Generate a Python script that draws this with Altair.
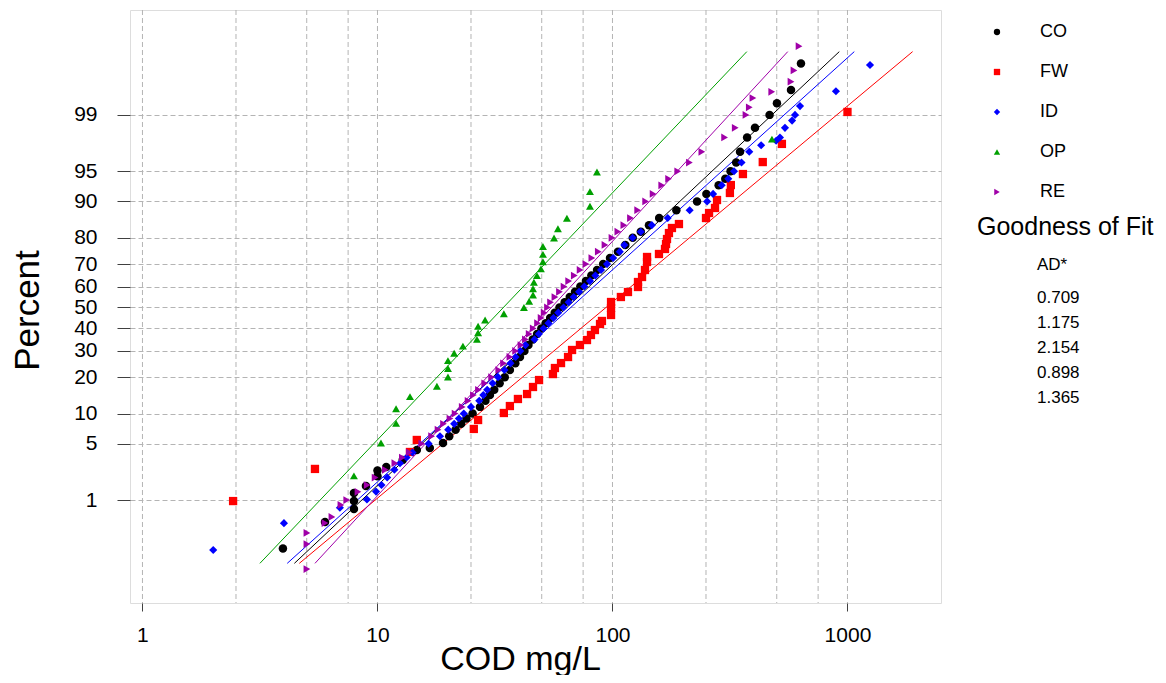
import altair as alt
import pandas as pd
from statistics import NormalDist

# ---------------- data ----------------
series_names = ["CO", "FW", "ID", "OP", "RE"]
series_colors = ["#000000", "#ff0000", "#0000ff", "#00a000", "#a000a8"]
series_shapes = ["circle", "square", "diamond", "triangle-up", "triangle-right"]
series_sizes = [72, 60, 105, 42, 72]
ad_values = ["0.709", "1.175", "2.154", "0.898", "1.365"]

co_cod = [3.96, 5.98, 7.94, 7.94, 7.94, 8.93, 10.0, 10.0, 10.9, 12.8, 14.7, 16.7, 19.0,
          20.2, 21.5, 22.7, 23.9, 25.4, 27.3, 28.8, 30.1, 31.4, 33.1, 34.8, 36.6, 38.6,
          40.4, 42.2, 43.9, 45.8, 47.8, 49.8, 52.0, 54.3, 56.8, 59.5, 62.6, 65.8, 69.3,
          73.0, 77.1, 81.3, 86.0, 91.3, 97.6, 105.5, 113.4, 122, 132, 143, 158, 187, 229,
          251, 283, 302, 318, 336, 349, 374, 404, 466, 501, 575, 634]
co_pct = [0.18, 0.48, 0.75, 0.97, 1.25, 1.55, 2.07, 2.45, 2.7, 3.27, 4.26, 4.49, 5.09,
          6, 7, 8, 9, 10, 11.5, 13, 14.5, 16, 18, 20, 22.5, 25,
          27.5, 30, 32.5, 35, 37.5, 40, 42.5, 45, 47.5, 50, 52.5, 55, 57.5,
          60, 62.5, 65, 67.5, 70, 72.5, 75, 77.5, 80, 82, 84, 86, 88, 90,
          91.5, 93, 94, 95, 96, 97, 98, 98.5, 99, 99.32, 99.57, 99.84]

fw_cod = [2.43, 5.42, 13.75, 14.7, 25.7, 26.8, 34.5, 36.6, 39.6, 43.3, 45.9, 48.7, 55.8,
          56.9, 60.4, 64.7, 67.3, 72.7, 77.9, 81.0, 84.2, 88.5, 90.2, 98.6, 98.6, 98.6,
          108.6, 116.4, 128.4, 128.4, 133.6, 137.5, 140.3, 140.3, 157.7, 167.3, 169.0,
          170.6, 173.9, 179.1, 191.8, 250, 257.6, 273.1, 278.5, 316, 319, 359, 436, 526, 1000]
fw_pct = [0.97, 2.56, 4.05, 5.48, 7.12, 8.71, 10.13, 11.70, 13.46, 14.80, 16.85, 19.05, 21.07,
          23.24, 25.11, 27.49, 30.39, 32.53, 34.72, 36.99, 39.28, 42.11, 43.53, 46.39, 49.76, 52.65,
          55.04, 57.42, 59.78, 62.09, 64.37, 67.47, 70.88, 72.91, 74.09, 76.02, 77.85,
          79.59, 81.57, 83.15, 84.33, 86.01, 87.31, 88.53, 90.29, 91.67, 93.04, 94.65, 96.05, 97.59, 99.09]

id_cod = [2.0, 4.0, 6.92, 9.02, 9.86, 10.4, 11.0, 11.8, 12.47, 13.3, 14.1, 16.5, 18.45, 20.0,
          21.2, 22.2, 23.3, 25.0, 27.1, 28.2, 29.3, 30.9, 32.6, 34.7, 36.8, 38.7, 40.5, 42.6,
          46.6, 48.6, 50.9, 53.4, 56.1, 58.8, 61.9, 65.1, 68.4, 72.1, 75.9, 80.2, 84.6, 89.4,
          94.8, 100.7, 107.4, 112.3, 121.8, 132, 147, 171.8, 213, 252.8, 268, 291.6, 311, 329,
          354, 382, 429, 497, 516, 542, 581, 598, 628, 893, 1247]
id_pct = [0.17, 0.46, 0.78, 1.02, 1.31, 1.6, 2, 2.5, 3, 3.5, 4, 5, 6, 7,
          8, 9, 10, 11.5, 13, 14.5, 16, 18, 20, 22.5, 25, 27.5, 30, 32.5,
          35, 37.5, 40, 42.5, 45, 47.5, 50, 52.5, 55, 57.5, 60, 62.5, 65, 67.5,
          70, 72.5, 75, 77.5, 80, 82, 84, 86, 88, 90, 91.5, 93, 94, 95,
          96, 97, 97.5, 97.8, 98, 98.5, 98.8, 99, 99.25, 99.55, 99.83]

op_cod = [7.94, 10.35, 12.0, 12.0, 13.75, 17.9, 19.95, 19.95, 19.95, 21.2, 23.1, 26.5, 26.8,
          26.8, 28.7, 34.5, 42.0, 44.2, 45.9, 45.9, 46.3, 47.7, 49.6, 50.6, 50.6, 50.6,
          56.4, 58.6, 64.0, 80.2, 80.2, 85.9, 477]
op_pct = [2.10, 5.09, 8.08, 11.08, 14.07, 17.07, 20.06, 23.05, 26.05, 29.04, 32.04, 35.03, 38.02,
          41.02, 44.01, 47.0, 50.0, 53.0, 55.99, 58.98, 61.98, 64.97, 67.96, 70.96, 73.95, 76.95,
          79.94, 82.93, 85.93, 88.92, 91.92, 94.91, 97.90]

re_cod = [5.01, 5.01, 5.01, 5.98, 6.40, 6.99, 7.4, 8.26, 9.04, 9.77, 10.8, 11.86, 12.76, 13.66,
          15.44, 17.0, 18.1, 19.1, 20.35, 21.4, 22.95, 24.3, 25.6, 26.9, 28.6, 30.6, 32.8, 34.4,
          36.6, 38.7, 40.8, 42.6, 44.2, 46.0, 48.0, 49.7, 51.2, 52.9, 54.5, 56.9, 59.5, 62.2,
          65.1, 68.8, 72.8, 77.1, 81.7, 87.0, 92.9, 99.5, 105.4, 111.8, 119.3, 128.0, 138.4,
          148.9, 162.0, 173.3, 189.5, 212.5, 240, 300, 333, 370, 382, 396, 476, 575, 592, 622]
re_pct = [0.079, 0.214, 0.323, 0.462, 0.57, 0.854, 1.0, 1.3, 1.6, 2, 2.5, 3, 3.5, 4,
          5, 6, 7, 8, 9, 10, 11.5, 13, 14.5, 16, 18, 20, 22.5, 25,
          27.5, 30, 32.5, 35, 37.5, 40, 42.5, 45, 47.5, 50, 52.5, 55, 57.5, 60,
          62.5, 65, 67.5, 70, 72.5, 75, 77.5, 80, 82, 84, 86, 88, 90,
          91.5, 93, 94, 95, 96, 97, 98, 98.5, 99, 99.22, 99.43, 99.54, 99.68, 99.79, 99.92]

# fitted lognormal lines: COD at 0.1 % and 99.9 %
fit_pct = [0.1, 99.9]
fit_low = [4.43, 4.65, 4.13, 3.16, 5.42]
fit_high = [923, 1893, 1069, 373, 557]

x_grid_values = [1, 2.5, 5, 7.5, 10, 25, 50, 75, 100, 250, 500, 750, 1000]
x_tick_values = [1, 10, 100, 1000]
y_tick_pct = [1, 5, 10, 20, 30, 40, 50, 60, 70, 80, 90, 95, 99]

# ---------------- build tables ----------------
nd = NormalDist()
rows = []
for k, (name, cods, pcts) in enumerate([("CO", co_cod, co_pct), ("FW", fw_cod, fw_pct),
                                         ("ID", id_cod, id_pct), ("OP", op_cod, op_pct),
                                         ("RE", re_cod, re_pct)]):
    for c, p in zip(cods, pcts):
        rows.append({"series": name, "cod": c, "pct": p, "z": nd.inv_cdf(p / 100), "ord": k})
pts = pd.DataFrame(rows)

lrows = []
for name, lo, hi in zip(series_names, fit_low, fit_high):
    for c, p in zip([lo, hi], fit_pct):
        lrows.append({"series": name, "cod": c, "pct": p, "z": nd.inv_cdf(p / 100)})
lines = pd.DataFrame(lrows)

grid_df = pd.DataFrame({"cod": x_grid_values})
legend_df = pd.DataFrame({"series": series_names})

y_tick_z = [nd.inv_cdf(p / 100) for p in y_tick_pct]
label_expr = "''"
for zv, p in reversed(list(zip(y_tick_z, y_tick_pct))):
    label_expr = f"abs(datum.value - ({zv:.4f})) < 0.01 ? '{p}' : ({label_expr})"

FONT = "Liberation Sans"
W, H = 811, 593
GRID = "#b4b4b4"

x_scale = alt.Scale(type="log", domain=[0.885, 2500], nice=False)
y_scale = alt.Scale(domain=[-3.569, 3.593], nice=False, zero=False)
color_scale = alt.Scale(domain=series_names, range=series_colors)
shape_scale = alt.Scale(domain=series_names, range=series_shapes)
size_scale = alt.Scale(domain=series_names, range=series_sizes)
legend_y_scale = alt.Scale(type="point", domain=series_names, range=[22, 182], padding=0)

x_axis = alt.Axis(values=x_tick_values, format="d", grid=False, domain=False,
                  tickSize=8, tickColor="#404040", labelFont=FONT, labelFontSize=21,
                  labelColor="#000000", labelPadding=13, labelOverlap=False,
                  title="COD mg/L",
                  titleFont=FONT, titleFontSize=34, titleFontWeight="normal",
                  titleColor="#000000", titleX=390, titleY=66, titleAlign="center",
                  titleBaseline="alphabetic")
y_axis = alt.Axis(values=y_tick_z, labelExpr=label_expr, grid=True, gridColor=GRID,
                  gridDash=[5, 3], gridWidth=1, domain=False, tickSize=13,
                  tickColor="#404040", labelFont=FONT, labelFontSize=21,
                  labelColor="#000000", labelPadding=20, labelOverlap=False,
                  labelBound=False, title="Percent",
                  titleFont=FONT, titleFontSize=35, titleFontWeight="normal",
                  titleColor="#000000", titleAngle=270, titleX=-92, titleY=300,
                  titleAlign="center", titleBaseline="alphabetic")

grid = alt.Chart(grid_df).mark_rule(color=GRID, strokeDash=[5, 3], strokeWidth=1).encode(
    x=alt.X("cod:Q", scale=x_scale, axis=x_axis)
)

fit = alt.Chart(lines).mark_line(strokeWidth=1).encode(
    x=alt.X("cod:Q", scale=x_scale, axis=x_axis),
    y=alt.Y("z:Q", scale=y_scale, axis=y_axis),
    color=alt.Color("series:N", scale=color_scale, legend=None),
    detail="series:N",
)

points = alt.Chart(pts).mark_point(filled=True, opacity=1, strokeWidth=0).encode(
    x=alt.X("cod:Q", scale=x_scale, axis=x_axis),
    y=alt.Y("z:Q", scale=y_scale, axis=y_axis),
    color=alt.Color("series:N", scale=color_scale, legend=None),
    shape=alt.Shape("series:N", scale=shape_scale, legend=None),
    size=alt.Size("series:N", scale=size_scale, legend=None),
    order=alt.Order("ord:Q"),
)

# legend drawn from the same colour / shape scales
legend_pts = alt.Chart(legend_df).mark_point(filled=True, opacity=1, strokeWidth=0, size=40).encode(
    x=alt.value(867),
    y=alt.Y("series:N", scale=legend_y_scale, axis=None),
    color=alt.Color("series:N", scale=color_scale, legend=None),
    shape=alt.Shape("series:N", scale=shape_scale, legend=None),
)
legend_txt = alt.Chart(legend_df).mark_text(
    font=FONT, fontSize=18, align="left", baseline="middle", color="#000000"
).encode(
    x=alt.value(910),
    y=alt.Y("series:N", scale=legend_y_scale, axis=None),
    text="series:N",
)

gof_title = alt.Chart(pd.DataFrame({"t": ["Goodness of Fit"]})).mark_text(
    font=FONT, fontSize=25, align="left", baseline="alphabetic", color="#000000"
).encode(text="t:N", x=alt.value(847), y=alt.value(225))

ad_title = alt.Chart(pd.DataFrame({"t": ["AD*"]})).mark_text(
    font=FONT, fontSize=17, align="left", baseline="alphabetic", color="#000000"
).encode(text="t:N", x=alt.value(907), y=alt.value(260))

ad_text = alt.Chart(pd.DataFrame({"t": ["\n".join(ad_values)]})).mark_text(
    font=FONT, fontSize=17, align="left", baseline="alphabetic", color="#000000",
    lineBreak="\n", lineHeight=25
).encode(text="t:N", x=alt.value(907), y=alt.value(293))

main = alt.layer(grid, fit, points)
side = alt.layer(legend_pts, legend_txt)

chart = alt.layer(main, side, gof_title, ad_title, ad_text).resolve_scale(
    y="independent"
).properties(
    width=W, height=H,
    autosize=alt.AutoSizeParams(type="none"),
    padding={"left": 122, "top": 2, "right": 217, "bottom": 72},
).configure_view(stroke="#404040", strokeWidth=1.5).configure(background="white")

chart.save("out.html", embed_options={"renderer": "svg", "actions": False})
